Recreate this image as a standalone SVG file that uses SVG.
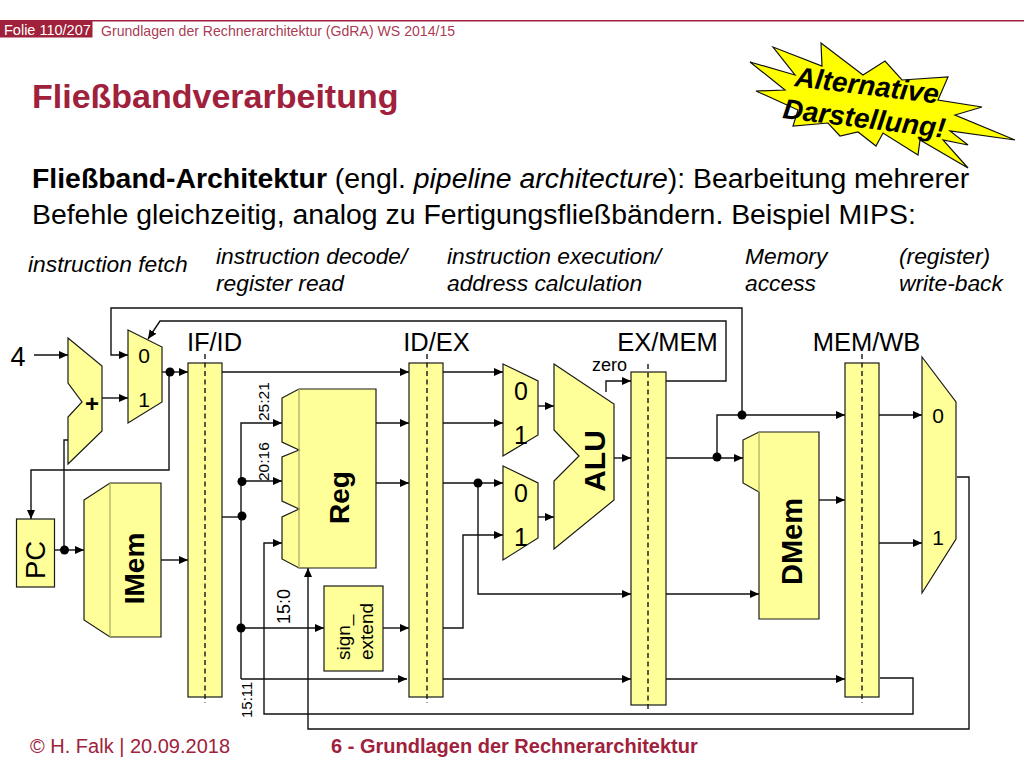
<svg xmlns="http://www.w3.org/2000/svg" width="1024" height="768" viewBox="0 0 1024 768">
<style>
text{font-family:"Liberation Sans",Arial,sans-serif;fill:#000}
.n{fill:#ffff99;stroke:#1a1a1a;stroke-width:1.2}
.i{fill:none;stroke:#a8a860;stroke-width:1.2}
.d{fill:none;stroke:#222;stroke-width:1.5;stroke-dasharray:5 3.5}
.c{fill:none;stroke:#111;stroke-width:1.4;marker-end:url(#a)}
.p{fill:none;stroke:#111;stroke-width:1.4}
.dot{fill:#000}
.s{font-size:25.500px}
.t{font-size:22.800px;font-style:italic}
.b{font-weight:bold}
.r{fill:#a0213c}
</style>
<defs><marker id="a" markerUnits="userSpaceOnUse" markerWidth="10" markerHeight="10" refX="9" refY="4" orient="auto"><path d="M0 0L9 4L0 8z" fill="#000"/></marker></defs>
<rect width="1024" height="768" fill="#fff"/>
<g id="header">
<rect x="0" y="20" width="1024" height="1.5" fill="#a0213c"/>
<rect x="0" y="20" width="92.500" height="17.500" fill="#a0213c"/>
<text x="4" y="35" font-size="14.500" style="fill:#fff">Folie 110/207</text>
<text x="101" y="36" font-size="14.100" class="r" fill-opacity=".9">Grundlagen der Rechnerarchitektur (GdRA) WS 2014/15</text>
<text x="32" y="107.500" font-size="34" class="b r">Fließbandverarbeitung</text>
<text x="32" y="188" font-size="28.400"><tspan class="b">Fließband-Architektur</tspan> (engl. <tspan font-style="italic">pipeline architecture</tspan>): Bearbeitung mehrerer</text>
<text x="32" y="224" font-size="28.400">Befehle gleichzeitig, analog zu Fertigungsfließbändern. Beispiel MIPS:</text>
</g>
<g id="burst">
<polygon points="750,62 795,75 773,47 822,66 821,43 863,75 885,61 902,80 948,77 938,100 982,107 955,115 1015,140 950,131 968,145 943,140 968,168 920,140 918,155 883,133 876,146 858,132 840,136 828,123 793,126 798,110 756,91 785,90" fill="#ffff00" stroke="#111" stroke-width="1.2"/>
<text transform="translate(794,86) rotate(7)" font-size="28" class="b" font-style="italic">Alternative</text>
<text transform="translate(782,118) rotate(7)" font-size="28" class="b" font-style="italic">Darstellung!</text>
</g>
<g id="stages">
<text x="28" y="272" class="t">instruction fetch</text>
<text x="216" y="264" class="t">instruction decode/</text><text x="216" y="291" class="t">register read</text>
<text x="447" y="264" class="t">instruction execution/</text><text x="447" y="291" class="t">address calculation</text>
<text x="745" y="264" class="t">Memory</text><text x="745" y="291" class="t">access</text>
<text x="899" y="264" class="t">(register)</text><text x="899" y="291" class="t">write-back</text>
</g>
<g id="connectors">
<path class="c" d="M742 415V308H111V355H128"/>
<path class="c" d="M666 381H726V321H160L148 339"/>
<path class="c" d="M34 355H68"/>
<path class="c" d="M102 398H128"/>
<path class="c" d="M162 372H188"/>
<path class="c" d="M169 372V470H31V519"/>
<path class="c" d="M54 550H84"/>
<path class="p" d="M64 550V440H68"/>
<path class="c" d="M161 560H188"/>
<path class="c" d="M222 372H409"/>
<path class="p" d="M222 517H241"/>
<path class="c" d="M241 679V423H282"/>
<path class="c" d="M241 481H282"/>
<path class="c" d="M241 628H324"/>
<path class="c" d="M241 679H407"/>
<path class="c" d="M880 678H913V714H264V543H282"/>
<path class="c" d="M957 477H969V729H308V568"/>
<path class="c" d="M376 423H409"/>
<path class="c" d="M376 483H409"/>
<path class="c" d="M383 628H409"/>
<path class="c" d="M443 372H503"/>
<path class="c" d="M443 423H503"/>
<path class="c" d="M443 483H503"/>
<path class="c" d="M478 483V594H631"/>
<path class="c" d="M443 628H463V535H503"/>
<path class="c" d="M443 679H631"/>
<path class="c" d="M538 406H554"/>
<path class="c" d="M538 517H554"/>
<path class="c" d="M614 458H631"/>
<path class="c" d="M606 392V381H631"/>
<path class="c" d="M666 458H743"/>
<path class="c" d="M717 458V415H845"/>
<path class="c" d="M666 594H759"/>
<path class="c" d="M666 679H845"/>
<path class="c" d="M819 500H845"/>
<path class="c" d="M879 415H922"/>
<path class="c" d="M879 543H922"/>
<circle class="dot" cx="170" cy="372" r="4.500"/>
<circle class="dot" cx="64.500" cy="550" r="4.500"/>
<circle class="dot" cx="242" cy="481.500" r="4.500"/>
<circle class="dot" cx="242" cy="516" r="4.500"/>
<circle class="dot" cx="241" cy="628" r="4.500"/>
<circle class="dot" cx="478" cy="483" r="4.500"/>
<circle class="dot" cx="717" cy="457" r="4.500"/>
<circle class="dot" cx="742" cy="415" r="4.500"/>
</g>
<g id="adder"><polygon class="n" points="68,338 102,366 102,431 68,464 68,417 82,402 68,383"/><text x="92" y="412" text-anchor="middle" font-size="24" class="b">+</text></g>
<g id="pcmux"><polygon class="n" points="128,330 162,347 162,402 128,423"/><text x="144" y="363" text-anchor="middle" font-size="21">0</text><text x="144" y="407" text-anchor="middle" font-size="21">1</text></g>
<g id="pc"><rect class="n" x="16.500" y="519" width="38" height="68"/><text transform="translate(45,560) rotate(-90)" text-anchor="middle" font-size="27.500">PC</text></g>
<g id="imem"><polygon class="n" points="84,500 110,483 161,483 161,637 110,637 84,620"/><path class="i" d="M110 483V637"/><text transform="translate(144,568.500) rotate(-90)" text-anchor="middle" font-size="28" class="b">IMem</text></g>
<g id="ifid"><rect class="n" x="188" y="363" width="34" height="334"/><path class="d" d="M205 354V703"/><text x="214.500" y="351" text-anchor="middle" class="s">IF/ID</text></g>
<g id="reg"><polygon class="n" points="282,398 299,389 376,389 376,568 299,568 282,559 282,517 299,509 282,501 282,457 299,450 282,442"/><path class="i" d="M299 389V568"/><text transform="translate(349,497.500) rotate(-90)" text-anchor="middle" font-size="28" class="b">Reg</text></g>
<g id="labels">
<text transform="translate(269,421) rotate(-90)" font-size="15.500">25:21</text>
<text transform="translate(269,481) rotate(-90)" font-size="15.500">20:16</text>
<text transform="translate(290,624) rotate(-90)" font-size="18">15:0</text>
<text transform="translate(252,718) rotate(-90)" font-size="15">15:11</text>
<text x="609.500" y="371" text-anchor="middle" font-size="18">zero</text>
<text x="18" y="366" text-anchor="middle" font-size="27">4</text>
</g>
<g id="signext"><rect class="n" x="324" y="586" width="59" height="85"/><text transform="translate(350,660) rotate(-90)" font-size="19">sign_</text><text transform="translate(373,660) rotate(-90)" font-size="19">extend</text></g>
<g id="idex"><rect class="n" x="409" y="363" width="34" height="334"/><path class="d" d="M427 354V703"/><text x="436.500" y="351" text-anchor="middle" class="s">ID/EX</text></g>
<g id="muxa"><polygon class="n" points="503,364 538,381 538,435 503,456"/><text x="521" y="400" text-anchor="middle" font-size="25">0</text><text x="521" y="444" text-anchor="middle" font-size="25">1</text></g>
<g id="muxb"><polygon class="n" points="503,466 538,483 538,538 503,560"/><text x="521" y="502" text-anchor="middle" font-size="25">0</text><text x="521" y="546" text-anchor="middle" font-size="25">1</text></g>
<g id="alu"><polygon class="n" points="554,364 614,404 614,500 554,549 554,481 579,456 554,430"/><text transform="translate(605,461) rotate(-90)" text-anchor="middle" font-size="30" class="b">ALU</text></g>
<g id="exmem"><rect class="n" x="631" y="372" width="35" height="333"/><path class="d" d="M648 364V712"/><text x="667.500" y="351" text-anchor="middle" class="s">EX/MEM</text></g>
<g id="dmem"><polygon class="n" points="743,440 759,432 819,432 819,619 759,619 759,492 743,483"/><path class="i" d="M759 432V492"/><text transform="translate(802,541.500) rotate(-90)" text-anchor="middle" font-size="29" class="b">DMem</text></g>
<g id="memwb"><rect class="n" x="845" y="363" width="34" height="334"/><path class="d" d="M862 354V703"/><text x="866.500" y="351" text-anchor="middle" class="s">MEM/WB</text></g>
<g id="wbmux"><polygon class="n" points="922,357 956,402 956,539 922,593"/><text x="938" y="423" text-anchor="middle" font-size="21">0</text><text x="938" y="545" text-anchor="middle" font-size="21">1</text></g>
<g id="footer">
<text x="30" y="753" font-size="20" class="r">© H. Falk | 20.09.2018</text>
<text x="331" y="753" font-size="20" class="b r">6 - Grundlagen der Rechnerarchitektur</text>
</g>
</svg>
